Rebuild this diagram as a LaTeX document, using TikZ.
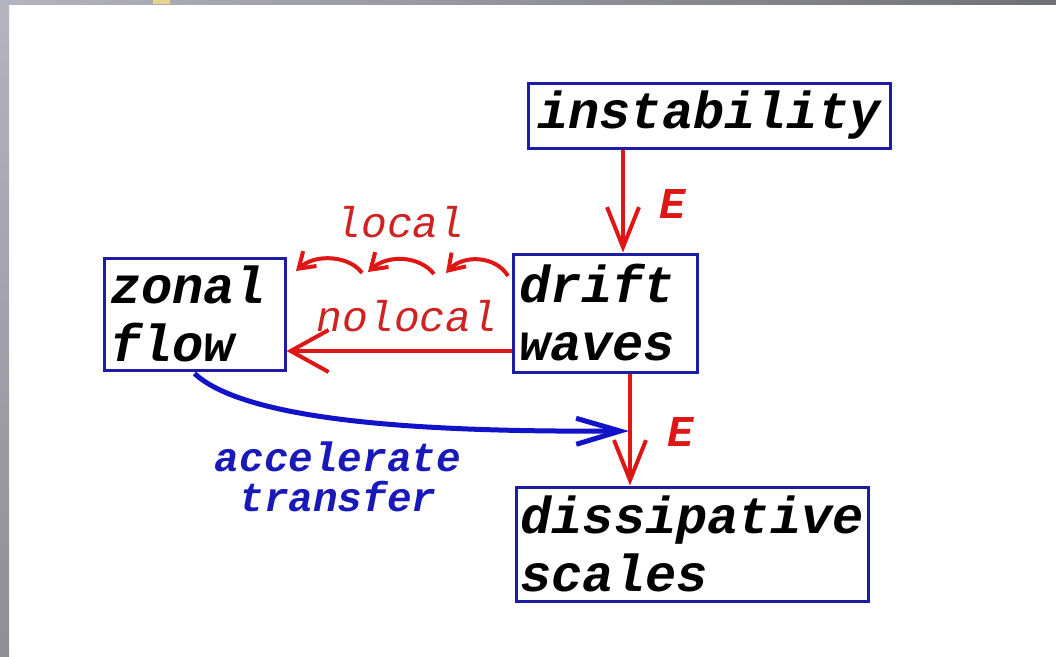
\documentclass[tikz,border=0pt]{standalone}
\usepackage{fontspec}
\setmonofont{Liberation Mono}
\usetikzlibrary{arrows.meta,calc}

\definecolor{boxblue}{RGB}{28,28,165}
\definecolor{flowred}{RGB}{222,22,22}
\definecolor{labred}{RGB}{205,35,35}
\definecolor{flowblue}{RGB}{18,18,200}
\definecolor{labblue}{RGB}{25,25,185}
\definecolor{frameA}{RGB}{180,180,192}
\definecolor{frameB}{RGB}{142,142,150}
\definecolor{frameC}{RGB}{112,112,120}
\definecolor{tab}{RGB}{232,212,142}

\newcommand\boxfont{\ttfamily\bfseries\itshape\fontsize{52}{58}\selectfont}
\newcommand\labfont{\ttfamily\itshape\fontsize{43}{48}\selectfont}
\newcommand\accfont{\ttfamily\bfseries\itshape\fontsize{41}{40}\selectfont}
\newcommand\efont{\ttfamily\bfseries\itshape\fontsize{44}{48}\selectfont}

\tikzset{
  stage/.style={draw=boxblue, line width=3pt, fill=white, inner xsep=6pt,
    inner ysep=0pt, font=\boxfont, align=left},
  energy/.style={draw=flowred, line width=4pt,
    -{Straight Barb[length=40pt,width=32pt]}},
  nonlocal/.style={draw=flowred, line width=4pt,
    -{Straight Barb[length=38pt,width=42pt]}},
  localstep/.style={draw=flowred, line width=4pt,
    -{Straight Barb[length=15pt,width=20pt]}},
  boost/.style={draw=flowblue, line width=5pt,
    -{Straight Barb[length=44pt,width=26pt]}},
  redlab/.style={text=labred, font=\labfont, inner sep=0pt},
  elab/.style={text=flowred, font=\efont, inner sep=0pt},
  bluelab/.style={text=labblue, font=\accfont, inner sep=0pt, align=center}
}

\begin{document}
\begin{tikzpicture}[x=1pt,y=-1pt]
  % page and window frame
  \fill[white] (0,0) rectangle (1056,656);
  \shade[top color=frameA, bottom color=frameB] (0,0) rectangle (9,656);
  \shade[left color=frameA, right color=frameC] (0,0) rectangle (1056,4);
  \fill[tab] (153,0) rectangle (170,4);
  \useasboundingbox (0,0) rectangle (1056,656);

  % stages
  \node[stage, align=center, minimum width=362pt, minimum height=65pt]
    (inst) at (709,115.5) {instability};
  \node[stage, text width=172pt, minimum height=118pt]
    (drift) at (605,313) {drift\\waves};
  \node[stage, text width=169pt, minimum height=112pt]
    (zonal) at (194.5,314) {zonal\\flow};
  \node[stage, inner xsep=4pt, text width=344pt, minimum height=114pt]
    (diss) at (692.5,544) {dissipative\\scales};

  % energy cascade
  \draw[energy] ([xshift=18pt]drift.north |- inst.south) -- ([xshift=18pt]drift.north);
  \draw[energy] ([xshift=25pt]drift.south) -- ([xshift=25pt]drift.south |- diss.north);
  \node[elab] (e1) at (673,204) {E};
  \node[elab] (e2) at (681,432) {E};

  % nonlocal transfer
  \draw[nonlocal] ($(drift.west)+(0,38)$) -- ($(zonal.east)+(0,37)$);
  \node[redlab] (nl) at (407,316) {nolocal};

  % local transfer, step by step
  \coordinate (l0) at (508,276);
  \coordinate (l1) at (446,273);
  \coordinate (l2) at (368,272);
  \coordinate (l3) at (296,271);
  \draw[localstep] (l0) .. controls (496,256) and (464,254) .. (l1);
  \draw[localstep] ($(l1)+(-12,1)$) .. controls (420,256) and (388,254) .. (l2);
  \draw[localstep] ($(l2)+(-6,1)$) .. controls (350,256) and (316,253) .. (l3);
  \node[redlab] (lo) at (400,222) {local};

  % zonal flow speeds the cascade
  \coordinate (bt) at (629,431);
  \draw[boost] ([yshift=-2pt]zonal.south) .. controls (250,425) and (450,432) .. (bt);
  \node[bluelab] (acc) at (338,477) {accelerate\\transfer};
\end{tikzpicture}
\end{document}
